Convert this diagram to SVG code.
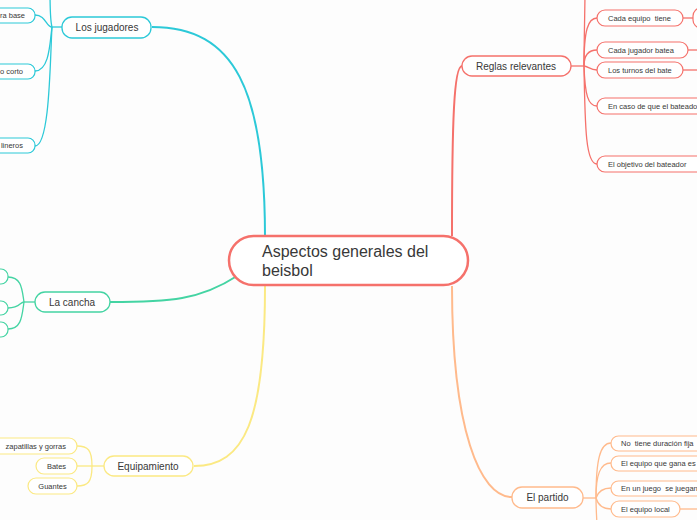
<svg xmlns="http://www.w3.org/2000/svg" width="697" height="520" viewBox="0 0 697 520">
<style>
text{font-family:"Liberation Sans",Arial,sans-serif;fill:#383838;white-space:pre}
.t10{font-size:10px;text-anchor:middle}
.t7{font-size:7.5px}
.c{fill:none}
.n{fill:#fff}
.red{stroke:#f5716b}
.cy{stroke:#2cc9d8}
.mi{stroke:#44d4a3}
.ye{stroke:#fbe983}
.or{stroke:#ffba8c}
.w2{stroke-width:2}
.w1{stroke-width:1.3}
</style>
<rect x="0" y="0" width="697" height="520" fill="#fdfdfd"/>
<g id="connectors" class="c">
  <path class="cy w2" d="M265,237 C265,90 235,27 152,27"/>
  <path class="mi w2" d="M237,276 C200,300 170,302 110,302"/>
  <path class="ye w2" d="M265,286 C265,420 245,466 194,466"/>
  <path class="red w2" d="M452,236 C452,120 454,66 462,66"/>
  <path class="or w2" d="M452,286 C452,430 480,497 512,497"/>
  <path class="cy w1" d="M62,27 H52"/>
  <path class="cy w1" d="M52,27 C50,20 50,5 50,-10"/>
  <path class="cy w1" d="M52,27 C46,27 46,15 35,15"/>
  <path class="cy w1" d="M52,27 C50,40 50,71 35,71"/>
  <path class="cy w1" d="M52,27 C50,60 50,146 35,146"/>
  <path class="mi w1" d="M35,302 H24"/>
  <path class="mi w1" d="M24,302 C22,290 22,277 8,277"/>
  <path class="mi w1" d="M24,302 C20,302 20,308 8,308"/>
  <path class="mi w1" d="M24,302 C22,315 22,329 8,329"/>
  <path class="ye w1" d="M104,466 H92"/>
  <path class="ye w1" d="M92,466 C92,450 88,446 77,446"/>
  <path class="ye w1" d="M92,466 H77"/>
  <path class="ye w1" d="M92,466 C92,482 88,486 77,486"/>
  <path class="red w1" d="M571,66 H584"/>
  <path class="red w1" d="M584,66 C584,40 585,10 585,-10"/>
  <path class="red w1" d="M584,66 C584,30 588,18 597,18"/>
  <path class="red w1" d="M584,66 C584,55 588,50 597,50"/>
  <path class="red w1" d="M584,66 C588,66 590,70 597,70"/>
  <path class="red w1" d="M584,66 C585,95 588,106 597,106"/>
  <path class="red w1" d="M584,66 C585,130 586,164 597,164"/>
  <path class="red w1" d="M683,18 H693"/>
  <path class="red w1" d="M688,50 H697"/>
  <path class="red w1" d="M683,70 H697"/>
  <path class="or w1" d="M583,498 H596"/>
  <path class="or w1" d="M596,498 C596,460 600,443 611,443"/>
  <path class="or w1" d="M596,498 C596,475 600,463 611,463"/>
  <path class="or w1" d="M596,498 C598,492 602,488 611,488"/>
  <path class="or w1" d="M596,498 C598,505 602,509 611,509"/>
  <path class="or w1" d="M596,498 C596,510 597,520 597,530"/>
  <path class="or w1" d="M680,509 H697"/>
</g>
<g id="center">
  <rect x="229" y="236" width="239" height="49" rx="24.5" class="n red" stroke-width="2.5"/>
  <text x="262" y="257" font-size="16">Aspectos generales del</text>
  <text x="262" y="276" font-size="16">beisbol</text>
</g>
<g id="los-jugadores">
  <rect x="62" y="17" width="89" height="21" rx="10" class="n cy" stroke-width="1.3"/>
  <text x="107" y="31" class="t10">Los jugadores</text>
</g>
<g id="ra-base">
  <rect x="-20" y="8" width="55" height="15" rx="7" class="n cy" stroke-width="1.2"/>
  <text x="25" y="18" class="t7" text-anchor="end">ra base</text>
</g>
<g id="o-corto">
  <rect x="-20" y="64" width="55" height="15" rx="7" class="n cy" stroke-width="1.2"/>
  <text x="23" y="74" class="t7" text-anchor="end">o corto</text>
</g>
<g id="lineros">
  <rect x="-20" y="138" width="55" height="15" rx="7" class="n cy" stroke-width="1.2"/>
  <text x="23" y="148" class="t7" text-anchor="end">lineros</text>
</g>
<g id="la-cancha">
  <rect x="35" y="292" width="75" height="20" rx="10" class="n mi" stroke-width="1.3"/>
  <text x="72" y="306" class="t10">La cancha</text>
</g>
<g id="cancha-1"><rect x="-20" y="269" width="28" height="15" rx="7" class="n mi" stroke-width="1.2"/></g>
<g id="cancha-2"><rect x="-20" y="301" width="28" height="14" rx="7" class="n mi" stroke-width="1.2"/></g>
<g id="cancha-3"><rect x="-20" y="322" width="28" height="15" rx="7" class="n mi" stroke-width="1.2"/></g>
<g id="equipamiento">
  <rect x="104" y="456" width="89" height="20" rx="10" class="n ye" stroke-width="1.3"/>
  <text x="148" y="470" class="t10">Equipamiento</text>
</g>
<g id="zapatillas">
  <rect x="-20" y="438" width="97" height="16" rx="8" class="n ye" stroke-width="1.2"/>
  <text x="66" y="449" class="t7" text-anchor="end">zapatillas y gorras</text>
</g>
<g id="bates">
  <rect x="36" y="458" width="41" height="16" rx="8" class="n ye" stroke-width="1.2"/>
  <text x="56.5" y="469" class="t7" text-anchor="middle">Bates</text>
</g>
<g id="guantes">
  <rect x="28" y="478" width="49" height="16" rx="8" class="n ye" stroke-width="1.2"/>
  <text x="52.5" y="489" class="t7" text-anchor="middle">Guantes</text>
</g>
<g id="reglas">
  <rect x="462" y="56" width="109" height="20" rx="10" class="n red" stroke-width="1.3"/>
  <text x="516" y="70" class="t10">Reglas relevantes</text>
</g>
<g id="cada-equipo">
  <rect x="597" y="10" width="86" height="16" rx="8" class="n red" stroke-width="1.2"/>
  <text x="608" y="21" class="t7">Cada equipo  tiene</text>
</g>
<g id="cada-equipo-child"><rect x="693" y="8" width="30" height="20" rx="8" class="n red" stroke-width="1.2"/></g>
<g id="cada-jugador">
  <rect x="597" y="42" width="91" height="16" rx="8" class="n red" stroke-width="1.2"/>
  <text x="608" y="53" class="t7">Cada jugador batea</text>
</g>
<g id="turnos">
  <rect x="597" y="62" width="86" height="16" rx="8" class="n red" stroke-width="1.2"/>
  <text x="608" y="73" class="t7">Los turnos del bate</text>
</g>
<g id="en-caso">
  <rect x="597" y="98" width="130" height="16" rx="8" class="n red" stroke-width="1.2"/>
  <text x="608" y="109" class="t7">En caso de que el bateado</text>
</g>
<g id="objetivo">
  <rect x="597" y="156" width="110" height="16" rx="8" class="n red" stroke-width="1.2"/>
  <text x="608" y="167" class="t7">El objetivo del bateador</text>
</g>
<g id="el-partido">
  <rect x="512" y="487" width="71" height="21" rx="10" class="n or" stroke-width="1.3"/>
  <text x="547.5" y="501" class="t10">El partido</text>
</g>
<g id="duracion">
  <rect x="611" y="436" width="110" height="15" rx="7.5" class="n or" stroke-width="1.2"/>
  <text x="621" y="446" class="t7">No  tiene duración fija</text>
</g>
<g id="gana">
  <rect x="611" y="456" width="110" height="15" rx="7.5" class="n or" stroke-width="1.2"/>
  <text x="621" y="466" class="t7">El equipo que gana es</text>
</g>
<g id="juego">
  <rect x="611" y="481" width="110" height="15" rx="7.5" class="n or" stroke-width="1.2"/>
  <text x="621" y="491" class="t7">En un juego  se juegan</text>
</g>
<g id="local">
  <rect x="611" y="501" width="69" height="16" rx="8" class="n or" stroke-width="1.2"/>
  <text x="621" y="512" class="t7">El equipo local</text>
</g>
</svg>
